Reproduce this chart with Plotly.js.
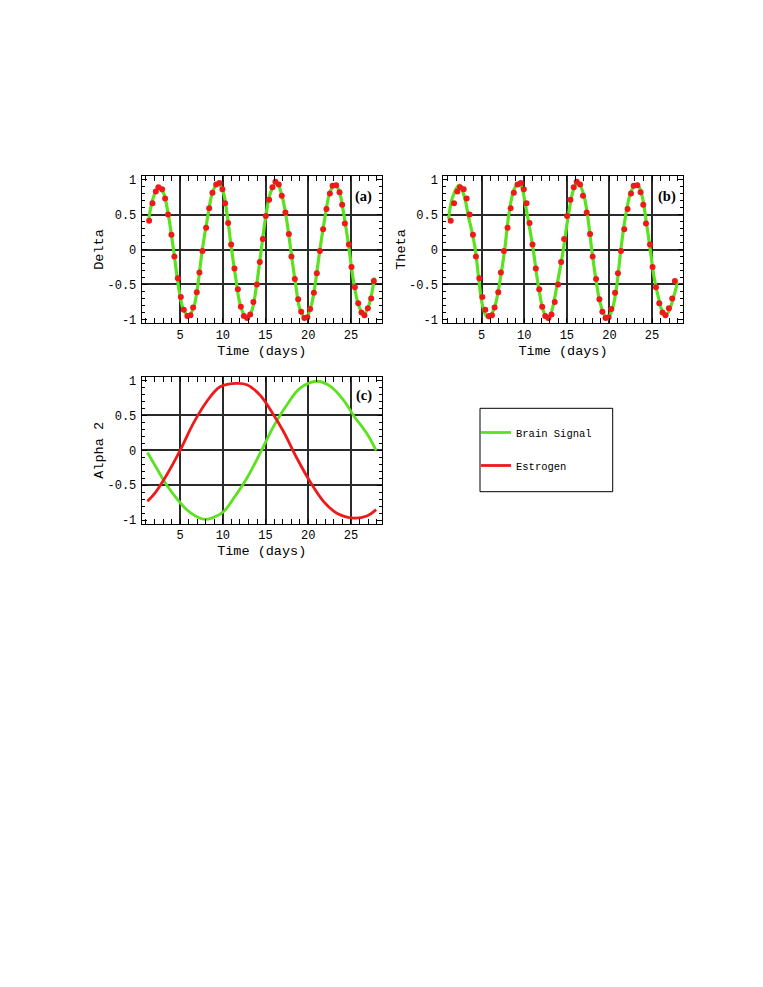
<!DOCTYPE html>
<html>
<head>
<meta charset="utf-8">
<script src="https://cdn.plot.ly/plotly-3.0.1.min.js"></script>
<style>html,body{margin:0;padding:0;background:#fff;}#chart{width:763px;height:987px;}</style>
</head>
<body>
<div id="chart"></div>
<script>
// ---- data ----
const dotDays = [1.37,1.76,2.15,2.46,2.89,3.24,3.59,3.98,4.33,4.73,5.08,5.43,5.85,6.21,6.52,6.95,7.26,7.61,8.04,8.40,8.78,9.22,9.60,9.95,10.27,10.62,10.97,11.36,11.76,12.11,12.46,12.85,13.20,13.58,13.98,14.33,14.68,15.03,15.42,15.81,16.16,16.55,16.90,17.33,17.73,18.03,18.43,18.82,19.17,19.55,19.90,20.22,20.66,21.00,21.36,21.74,22.13,22.53,22.85,23.27,23.66,23.97,24.29,24.76,25.06,25.46,25.85,26.23,26.58,26.98,27.37,27.68];
const dotVals = [0.41,0.66,0.83,0.89,0.86,0.73,0.50,0.21,-0.10,-0.41,-0.68,-0.86,-0.95,-0.94,-0.83,-0.61,-0.33,-0.02,0.31,0.59,0.81,0.93,0.95,0.86,0.66,0.38,0.07,-0.27,-0.57,-0.82,-0.95,-0.98,-0.93,-0.75,-0.50,-0.18,0.15,0.48,0.71,0.89,0.97,0.93,0.77,0.53,0.22,-0.10,-0.42,-0.71,-0.89,-0.98,-0.97,-0.85,-0.62,-0.34,-0.02,0.29,0.58,0.80,0.91,0.92,0.82,0.64,0.37,0.07,-0.25,-0.54,-0.77,-0.90,-0.94,-0.84,-0.70,-0.45];

const deltaFitDays = [1.35,1.8,2.4,3.0,3.5,4.2,4.9,5.4,6.0,6.6,7.0,7.6,8.2,8.8,9.4,10.0,10.5,10.95,11.5,12.1,12.8,13.4,13.9,14.45,15.0,15.6,16.3,16.9,17.4,17.95,18.5,19.1,19.75,20.4,20.9,21.37,21.9,22.5,23.1,23.6,24.1,24.7,25.3,25.9,26.5,27.0,27.4,27.75];
const deltaFitVals = [0.45,0.72,0.88,0.82,0.58,0.02,-0.60,-0.86,-0.95,-0.82,-0.57,0.0,0.45,0.82,0.95,0.84,0.50,0.07,-0.40,-0.82,-0.98,-0.87,-0.55,-0.05,0.45,0.82,0.96,0.78,0.48,0.0,-0.48,-0.88,-0.98,-0.78,-0.42,0.0,0.42,0.80,0.93,0.84,0.55,0.08,-0.45,-0.80,-0.93,-0.83,-0.65,-0.40];

const thetaFitDays = [1.11,1.6,2.37,3.0,3.45,3.87,4.26,4.65,5.05,5.45,5.82,6.2,6.61,7.15,7.71,8.18,8.77,9.3,9.68,10.15,10.6,11.05,11.64,12.23,12.74,13.1,13.41,14.0,14.59,15.18,15.77,16.3,16.94,17.45,17.92,18.39,18.9,19.42,19.81,20.2,20.48,20.87,21.34,21.84,22.43,22.9,23.3,23.81,24.32,24.79,25.26,25.78,26.2,26.67,27.0,27.34,28.0];
const thetaFitVals = [0.44,0.75,0.92,0.74,0.47,0.25,0.0,-0.41,-0.77,-0.93,-0.98,-0.92,-0.79,-0.45,0.0,0.49,0.85,0.95,0.90,0.63,0.33,0.0,-0.51,-0.87,-1.0,-0.93,-0.79,-0.41,0.0,0.49,0.85,0.97,0.80,0.47,0.0,-0.41,-0.76,-0.94,-0.99,-0.90,-0.79,-0.51,0.0,0.44,0.79,0.91,0.93,0.78,0.40,0.0,-0.41,-0.70,-0.88,-0.93,-0.88,-0.76,-0.47];

const brainDays = [1.17,2.27,3.44,4.61,5.78,6.95,7.93,8.71,10.07,11.25,12.81,14.37,15.93,17.49,19.05,21.0,22.56,24.13,25.30,26.86,27.95];
const brainVals = [-0.03,-0.26,-0.50,-0.69,-0.85,-0.95,-0.99,-0.97,-0.88,-0.69,-0.40,-0.04,0.34,0.65,0.89,0.99,0.92,0.72,0.50,0.24,0.0];

const estrogenDays = [1.17,2.07,3.44,5.0,6.56,8.12,9.68,11.64,12.81,14.37,15.73,17.10,18.66,20.22,21.78,23.35,25.30,26.86,27.95];
const estrogenVals = [-0.73,-0.61,-0.35,0.0,0.39,0.70,0.91,0.96,0.94,0.79,0.55,0.27,-0.11,-0.45,-0.73,-0.90,-0.97,-0.94,-0.85];

const yTickVals = [-1,-0.5,0,0.5,1];
const yTickText = ['-1','-0.5','0','0.5','1'];
const gridYVals = [-0.5,0,0.5];
const seriesNames = ['Brain Signal','Estrogen'];
const yTitles = ['Delta','Theta','Alpha 2'];
const xTitle = 'Time (days)';
const panelLabels = ['(a)','(b)','(c)'];

// ---- styling ----
const GREEN = '#5ae21e';
const RED = '#ee1a1a';
const GRID = '#2a2a2a';
const MONO = 'Liberation Mono, Courier New, monospace';
const W = 763, H = 987;
const XR = [0.5, 28.6];
const YR = [-1.055, 1.055];

const traces = [
  {x: deltaFitDays, y: deltaFitVals, xaxis:'x', yaxis:'y', mode:'lines', line:{color:GREEN,width:3.2,shape:'spline',smoothing:1}, showlegend:false, hoverinfo:'skip'},
  {x: dotDays, y: dotVals, xaxis:'x', yaxis:'y', mode:'markers', marker:{color:RED,size:6}, showlegend:false},
  {x: thetaFitDays, y: thetaFitVals, xaxis:'x2', yaxis:'y2', mode:'lines', line:{color:GREEN,width:3.2,shape:'spline',smoothing:1}, showlegend:false, hoverinfo:'skip'},
  {x: dotDays, y: dotVals, xaxis:'x2', yaxis:'y2', mode:'markers', marker:{color:RED,size:6}, showlegend:false},
  {x: brainDays, y: brainVals, xaxis:'x3', yaxis:'y3', mode:'lines', name: seriesNames[0], legendgroup:'g1', line:{color:GREEN,width:2.8,shape:'spline',smoothing:1}},
  {x: estrogenDays, y: estrogenVals, xaxis:'x3', yaxis:'y3', mode:'lines', name: seriesNames[1], legendgroup:'g2', line:{color:RED,width:2.8,shape:'spline',smoothing:1}},
  // empty traces so the grid-only overlay axes exist
  {x: [], y: [], xaxis:'x', yaxis:'y4', showlegend:false, hoverinfo:'skip'},
  {x: [], y: [], xaxis:'x2', yaxis:'y5', showlegend:false, hoverinfo:'skip'},
  {x: [], y: [], xaxis:'x3', yaxis:'y6', showlegend:false, hoverinfo:'skip'}
];

function xAxis(domain, anchor){
  return {
    domain: domain, anchor: anchor, range: XR, tick0: 0, dtick: 5,
    ticks:'inside', ticklen:5, tickcolor:'#000', tickwidth:1,
    showline:true, linecolor:'#000', linewidth:1, mirror:'allticks',
    showgrid:true, gridcolor:GRID, gridwidth:2, zeroline:false,
    minor:{dtick:1, tick0:0, ticks:'inside', ticklen:3, tickcolor:'#000', tickwidth:1, showgrid:false},
    tickfont:{family:MONO, size:12, color:'#000'},
    title:{text:xTitle, font:{family:MONO, size:13.5, color:'#000'}, standoff:3}
  };
}
function yAxis(domain, anchor, title){
  return {
    domain: domain, anchor: anchor, range: YR, tickmode:'array', tickvals: yTickVals, ticktext: yTickText,
    ticks:'inside', ticklen:5, tickcolor:'#000', tickwidth:1,
    showline:true, linecolor:'#000', linewidth:1, mirror:'allticks',
    showgrid:false, zeroline:false, ticklabelstandoff:2,
    minor:{dtick:0.1, tick0:0, ticks:'inside', ticklen:3, tickcolor:'#000', tickwidth:1, showgrid:false},
    tickfont:{family:MONO, size:12, color:'#000'},
    title:{text:title, font:{family:MONO, size:13.5, color:'#000'}, standoff:0}
  };
}
function gridAxis(domain, anchor, over){
  return {
    domain: domain, anchor: anchor, overlaying: over, range: YR, tickmode:'array', tickvals: gridYVals,
    showticklabels:false, ticks:'', showline:false, zeroline:false,
    showgrid:true, gridcolor:GRID, gridwidth:2
  };
}

const xa = [141.7/W, 381.7/W];
const xb = [443.3/W, 682.7/W];
const yTop = [1-323.3/H, 1-175.7/H];
const yBot = [1-524/H, 1-376.7/H];

const labelAnn = (i, xr, yr, xf, yf) => ({
  text: panelLabels[i], xref: xr, yref: yr, x: xf, y: yf, showarrow:false,
  font:{family:'Liberation Serif, Times New Roman, serif', size:14.5, color:'#000', weight:'bold'},
  xanchor:'center', yanchor:'middle'
});

const layout = {
  width: W, height: H, autosize:false,
  margin:{l:0,r:0,t:0,b:0},
  paper_bgcolor:'#fff', plot_bgcolor:'#fff',
  showlegend:true,
  legend:{
    x: 476/W, xanchor:'left', y: 1-418/H, yanchor:'top',
    bgcolor:'rgba(0,0,0,0)', borderwidth:0,
    font:{family:MONO, size:10.5, color:'#000'},
    traceorder:'grouped', tracegroupgap:14
  },
  xaxis: xAxis(xa, 'y'),
  yaxis: yAxis(yTop, 'x', yTitles[0]),
  xaxis2: xAxis(xb, 'y2'),
  yaxis2: yAxis(yTop, 'x2', yTitles[1]),
  xaxis3: xAxis(xa, 'y3'),
  yaxis3: yAxis(yBot, 'x3', yTitles[2]),
  yaxis4: gridAxis(yTop, 'x', 'y'),
  yaxis5: gridAxis(yTop, 'x2', 'y2'),
  yaxis6: gridAxis(yBot, 'x3', 'y3'),
  shapes:[
    {type:'rect', xref:'paper', yref:'paper', x0:480/W, x1:612.7/W, y0:1-491.7/H, y1:1-408.3/H, line:{color:'#000', width:1}, fillcolor:'rgba(0,0,0,0)'}
  ],
  annotations:[
    labelAnn(0, 'x domain', 'y domain', 0.926, 0.858),
    labelAnn(1, 'x2 domain', 'y2 domain', 0.936, 0.858),
    labelAnn(2, 'x3 domain', 'y3 domain', 0.926, 0.871)
  ]
};

Plotly.newPlot('chart', traces, layout, {staticPlot:true, displayModeBar:false});
</script>
</body>
</html>
